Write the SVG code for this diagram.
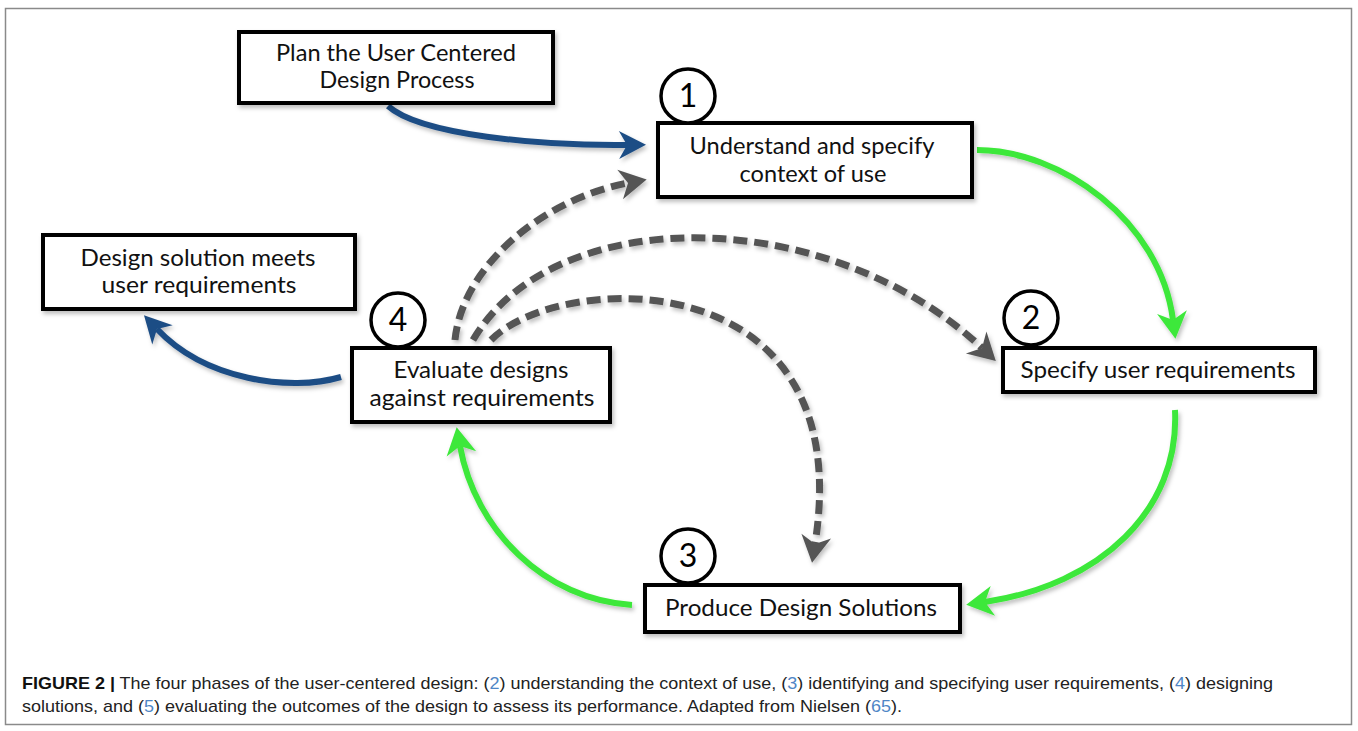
<svg xmlns="http://www.w3.org/2000/svg" width="1358" height="731" viewBox="0 0 1358 731">
  <style>
    .box { fill: #ffffff; stroke: #000000; stroke-width: 4; }
    .num { fill: #ffffff; stroke: #000000; stroke-width: 3.5; }
    .lbl { font-family: "Lato", "Liberation Sans", sans-serif; font-size: 23px; fill: #111111; text-anchor: middle; }
    .dig { font-family: "Lato", "Liberation Sans", sans-serif; font-size: 32px; fill: #000000; text-anchor: middle; }
    .blue { fill: none; stroke: #1f4e85; stroke-width: 6; }
    .green { fill: none; stroke: #3de83a; stroke-width: 6; }
    .gray { fill: none; stroke: #555555; stroke-width: 7; stroke-dasharray: 14 7; }
    .cap { font-family: "Liberation Sans", Arial, sans-serif; font-size: 17px; fill: #222222; }
    .lnk { fill: #4f86c6; }
  </style>
  <defs>
    <filter id="sh" x="-20%" y="-20%" width="140%" height="140%">
      <feDropShadow dx="2" dy="3" stdDeviation="2" flood-color="#000000" flood-opacity="0.25"/>
    </filter>
    <marker id="aBlue" viewBox="-10 -16 32 32" markerWidth="32" markerHeight="32" refX="0" refY="0" orient="auto" markerUnits="userSpaceOnUse">
      <path d="M19,0 L-8,-14 L0,0 L-8,14 Z" fill="#1f4e85"/>
    </marker>
    <marker id="aGreen" viewBox="-10 -16 32 32" markerWidth="32" markerHeight="32" refX="0" refY="0" orient="auto" markerUnits="userSpaceOnUse">
      <path d="M19,0 L-8,-15 L0,0 L-8,15 Z" fill="#3de83a"/>
    </marker>
    <marker id="aGray" viewBox="-10 -16 32 32" markerWidth="32" markerHeight="32" refX="0" refY="0" orient="auto" markerUnits="userSpaceOnUse">
      <path d="M19,0 L-8,-15 L0,0 L-8,15 Z" fill="#555555"/>
    </marker>
  </defs>

  <rect x="5.5" y="8.5" width="1346" height="716" fill="#ffffff" stroke="#8a8a8a" stroke-width="1.5"/>

  <g id="connectors" filter="url(#sh)">
    <path class="blue" d="M388,106 C420,135 540,146 627,145" marker-end="url(#aBlue)"/>
    <path class="gray" d="M455,340 C462,268 540,200 628,183" marker-end="url(#aGray)"/>
    <path class="gray" d="M473,340 C555,200 830,205 982,348" marker-end="url(#aGray)"/>
    <path class="gray" d="M491,340 C560,270 860,260 815,544" marker-end="url(#aGray)"/>
    <path class="green" d="M977,150 C1060,150 1160,220 1173,320" marker-end="url(#aGreen)"/>
    <path class="green" d="M1175,410 C1180,510 1100,585 985,602" marker-end="url(#aGreen)"/>
    <path class="green" d="M632,605 C545,600 475,530 460,446" marker-end="url(#aGreen)"/>
    <path class="blue" d="M341,377 C290,392 205,380 157,329" marker-end="url(#aBlue)"/>
  </g>

  <g id="plan">
    <rect class="box" x="239" y="32" width="314" height="71" filter="url(#sh)"/>
    <text class="lbl" x="396" y="61" textLength="240" lengthAdjust="spacingAndGlyphs">Plan the User Centered</text>
    <text class="lbl" x="397" y="88" textLength="155" lengthAdjust="spacingAndGlyphs">Design Process</text>
  </g>

  <g id="understand">
    <rect class="box" x="658" y="123" width="314" height="74" filter="url(#sh)"/>
    <text class="lbl" x="812" y="154" textLength="245" lengthAdjust="spacingAndGlyphs">Understand and specify</text>
    <text class="lbl" x="813" y="182" textLength="147" lengthAdjust="spacingAndGlyphs">context of use</text>
  </g>
  <g id="step1">
    <circle class="num" cx="688" cy="96" r="27"/>
    <text class="dig" x="688" y="107">1</text>
  </g>

  <g id="specify">
    <rect class="box" x="1003" y="348" width="312" height="44" filter="url(#sh)"/>
    <text class="lbl" x="1158" y="378" textLength="275" lengthAdjust="spacingAndGlyphs">Specify user requirements</text>
  </g>
  <g id="step2">
    <circle class="num" cx="1031" cy="318" r="27"/>
    <text class="dig" x="1031" y="329">2</text>
  </g>

  <g id="produce">
    <rect class="box" x="645" y="585" width="315" height="47" filter="url(#sh)"/>
    <text class="lbl" x="801" y="616" textLength="272" lengthAdjust="spacingAndGlyphs">Produce Design Solutions</text>
  </g>
  <g id="step3">
    <circle class="num" cx="688" cy="556" r="27"/>
    <text class="dig" x="688" y="567">3</text>
  </g>

  <g id="evaluate">
    <rect class="box" x="352" y="348" width="258" height="74" filter="url(#sh)"/>
    <text class="lbl" x="481" y="378" textLength="175" lengthAdjust="spacingAndGlyphs">Evaluate designs</text>
    <text class="lbl" x="482" y="406" textLength="225" lengthAdjust="spacingAndGlyphs">against requirements</text>
  </g>
  <g id="step4">
    <circle class="num" cx="398" cy="320" r="27"/>
    <text class="dig" x="398" y="331">4</text>
  </g>

  <g id="meets">
    <rect class="box" x="43" y="235" width="312" height="74" filter="url(#sh)"/>
    <text class="lbl" x="198" y="266" textLength="235" lengthAdjust="spacingAndGlyphs">Design solution meets</text>
    <text class="lbl" x="199" y="293" textLength="195" lengthAdjust="spacingAndGlyphs">user requirements</text>
  </g>

  <g id="caption">
    <text class="cap" x="22" y="689" textLength="1251" lengthAdjust="spacingAndGlyphs"><tspan font-weight="bold" fill="#111111">FIGURE 2 |</tspan> The four phases of the user-centered design: (<tspan class="lnk">2</tspan>) understanding the context of use, (<tspan class="lnk">3</tspan>) identifying and specifying user requirements, (<tspan class="lnk">4</tspan>) designing</text>
    <text class="cap" x="22" y="712" textLength="880" lengthAdjust="spacingAndGlyphs">solutions, and (<tspan class="lnk">5</tspan>) evaluating the outcomes of the design to assess its performance. Adapted from Nielsen (<tspan class="lnk">65</tspan>).</text>
  </g>
</svg>
